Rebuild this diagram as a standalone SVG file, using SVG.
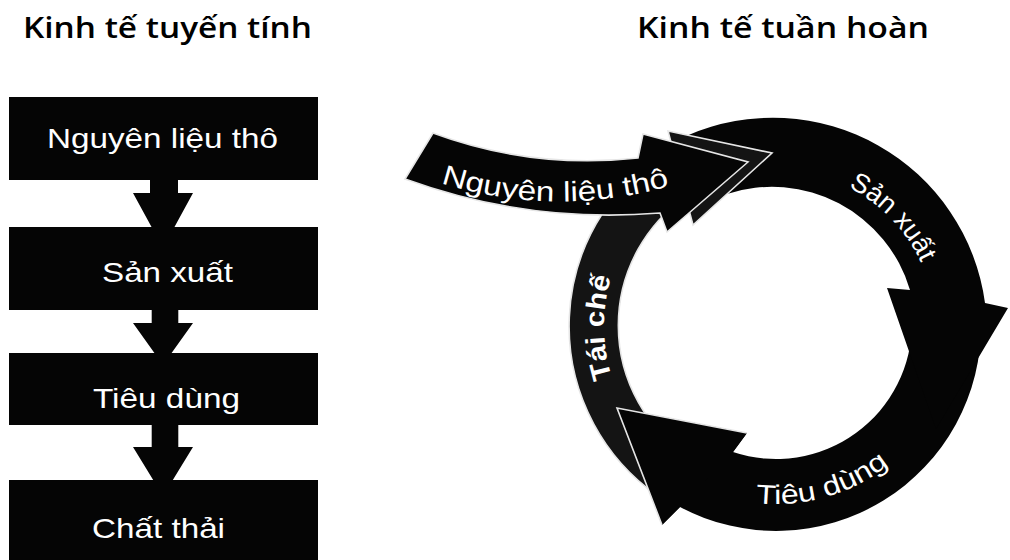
<svg xmlns="http://www.w3.org/2000/svg" width="1010" height="560" viewBox="0 0 1010 560">
  <style>
    .title { font-family: "Open Sans", "Noto Sans", sans-serif; font-size: 28px; font-weight: 600; fill: #000; }
    .box { fill: #050505; }
    .lbl { font-family: "Liberation Sans", Arial, sans-serif; font-size: 28px; fill: #fff; }
    .rlbl { font-family: "Liberation Sans", Arial, sans-serif; font-size: 27px; fill: #fff; }
    .band { fill: #050505; }
    .grain { fill: #141414; }
    .outl { stroke: #e6e6e6; stroke-width: 1.6; stroke-linejoin: miter; }
  </style>
  <defs>
    <path id="pNguyen" d="M 420,176 A 398 398 0 0 0 700,176"/>
    <path id="pSanXuat" d="M 764.8,170.4 A 160 160 0 0 1 935.1,346.7"/>
    <path id="pTieuDung" d="M 674.2,472.9 A 182 182 0 0 0 942.3,396"/>
    <path id="pTaiChe" d="M 666.6,458.7 A 172 172 0 0 1 664.3,195.2"/>
  </defs>
  <rect width="1010" height="560" fill="#fff"/>

  <text class="title" x="23" y="38" textLength="289" lengthAdjust="spacingAndGlyphs">Kinh tế tuyến tính</text>
  <text class="title" x="637" y="38" textLength="292" lengthAdjust="spacingAndGlyphs">Kinh tế tuần hoàn</text>

  <!-- Linear economy -->
  <g id="connectors-linear">
    <polygon class="box" points="150,178 178,178 178,193 193,193 163,248 133,193 150,193"/>
    <polygon class="box" points="151.7,308 178.3,308 178.3,323 193,323 163,365 133,323 151.7,323"/>
    <polygon class="box" points="151.7,423 178.3,423 178.3,447 193,447 163,496 133,447 151.7,447"/>
  </g>
  <g id="lin-nguyen-lieu">
    <rect class="box" x="9" y="97" width="309" height="83"/>
    <text class="lbl" x="47" y="148" textLength="231" lengthAdjust="spacingAndGlyphs">Nguyên liệu thô</text>
  </g>
  <g id="lin-san-xuat">
    <rect class="box" x="9" y="227" width="309" height="83"/>
    <text class="lbl" x="102" y="282" textLength="131" lengthAdjust="spacingAndGlyphs">Sản xuất</text>
  </g>
  <g id="lin-tieu-dung">
    <rect class="box" x="9" y="353" width="309" height="72"/>
    <text class="lbl" x="93" y="408" textLength="147" lengthAdjust="spacingAndGlyphs">Tiêu dùng</text>
  </g>
  <g id="lin-chat-thai">
    <rect class="box" x="9" y="480" width="309" height="80"/>
    <text class="lbl" x="92" y="538" textLength="133" lengthAdjust="spacingAndGlyphs">Chất thải</text>
  </g>

  <!-- Circular economy -->
  <g id="connectors-circular">
    <path id="arc-tieu-dung" class="band" d="M 981,322 A 205 205 0 0 1 680,507 L 662,525 L 617,408 L 747,433 L 733,452 A 136 136 0 0 0 912,322 Z"/>
    <path id="arc-san-xuat" class="band" d="M 688,135.3 A 214 214 0 0 1 985,303 L 1008,308 L 936,429 L 887,288 L 910,290 A 144 144 0 0 0 727,194 L 772,153 Z"/>
    <path id="arc-tai-che" class="grain outl" d="M 657.3,495.6 A 207 207 0 0 1 672.3,147 L 668,131 L 772,153 L 693,225 L 685.5,196.8 A 157 157 0 0 0 685.9,454.6 Z"/>
    <polygon class="band" points="617,408 747,433 733,452 680,507 662,525"/>
    <polyline class="outl" fill="none" points="747,433 617,408 662,525"/>
    <path id="arrow-nguyen" class="band outl" d="M 433,133 A 450 450 0 0 0 638,158 L 643,134 L 748,162 L 667,232 L 660,213 A 600 600 0 0 1 405,179 Z"/>
  </g>
  <g id="circ-nguyen-lieu">
    <text class="lbl"><textPath href="#pNguyen" startOffset="138" text-anchor="middle" textLength="232" lengthAdjust="spacingAndGlyphs">Nguyên liệu thô</textPath></text>
  </g>
  <g id="circ-san-xuat">
    <text class="rlbl"><textPath href="#pSanXuat" startOffset="50%" text-anchor="middle">Sản xuất</textPath></text>
  </g>
  <g id="circ-tieu-dung">
    <text class="rlbl"><textPath href="#pTieuDung" startOffset="50%" text-anchor="middle" textLength="142" lengthAdjust="spacingAndGlyphs">Tiêu dùng</textPath></text>
  </g>
  <g id="circ-tai-che">
    <text class="rlbl" font-weight="bold"><textPath href="#pTaiChe" startOffset="50%" text-anchor="middle" textLength="102" lengthAdjust="spacingAndGlyphs">Tái chế</textPath></text>
  </g>
</svg>
